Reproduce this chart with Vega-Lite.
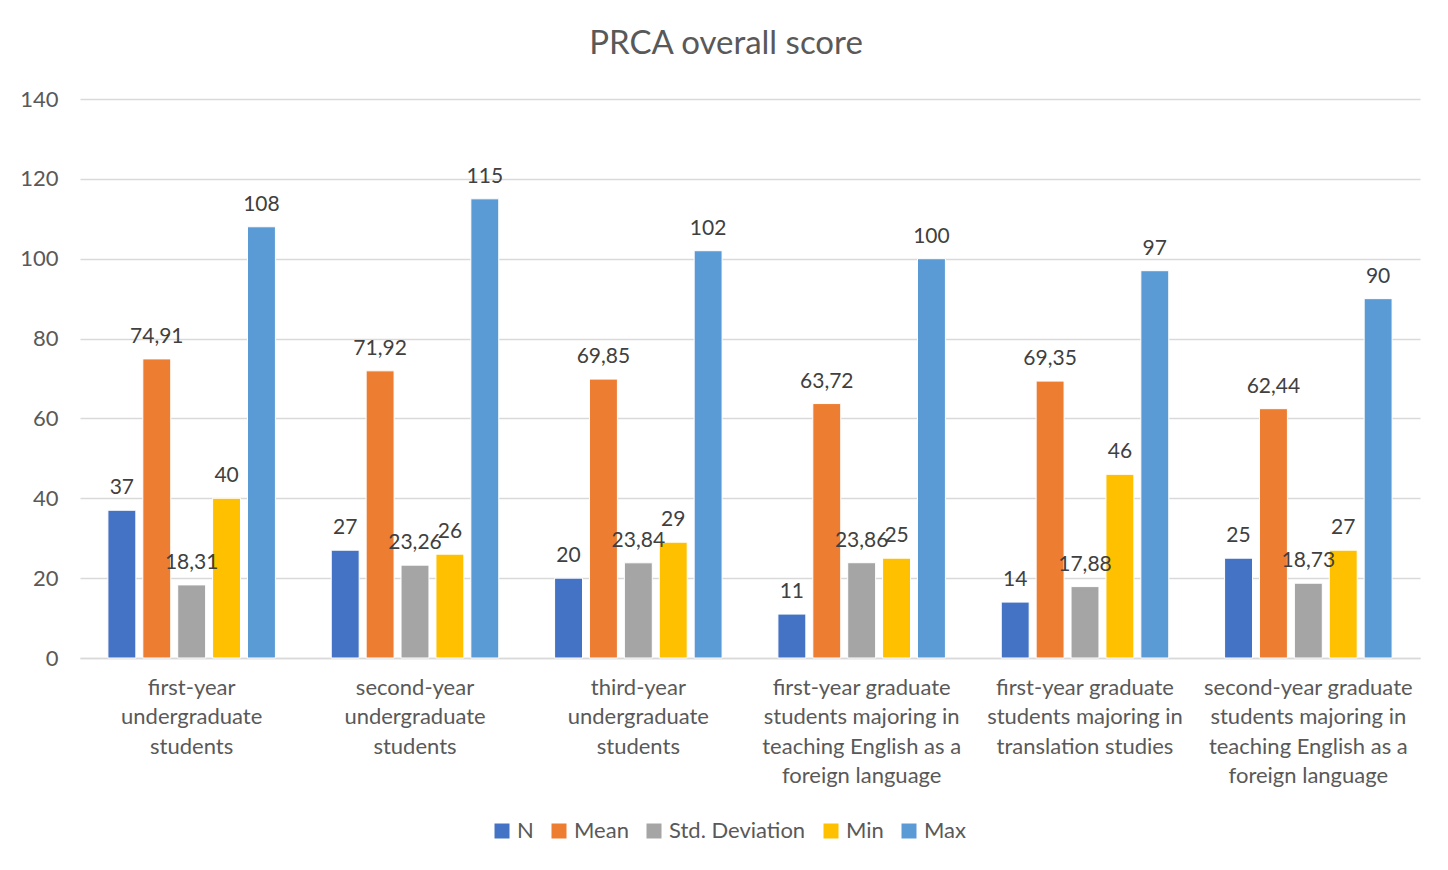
{
  "$schema": "https://vega.github.io/schema/vega-lite/v6.json",
  "width": 1340,
  "height": 559,
  "autosize": {"type": "none"},
  "padding": {"left": 80, "top": 99, "right": 28, "bottom": 212},
  "background": "white",
  "config": {
    "font": "Lato",
    "locale": {"number": {"decimal": ",", "thousands": ".", "grouping": [3], "currency": ["", " €"]}},
    "view": {"stroke": null}
  },
  "title": {
    "text": "PRCA overall score",
    "fontSize": 33,
    "fontWeight": "normal",
    "color": "#595959",
    "font": "Lato",
    "anchor": "middle",
    "dx": -24,
    "offset": 27
  },
  "data": {
    "values": [
      {"group": "first-year\nundergraduate\nstudents", "stat": "N", "value": 37},
      {"group": "first-year\nundergraduate\nstudents", "stat": "Mean", "value": 74.91},
      {"group": "first-year\nundergraduate\nstudents", "stat": "Std. Deviation", "value": 18.31},
      {"group": "first-year\nundergraduate\nstudents", "stat": "Min", "value": 40},
      {"group": "first-year\nundergraduate\nstudents", "stat": "Max", "value": 108},
      {"group": "second-year\nundergraduate\nstudents", "stat": "N", "value": 27},
      {"group": "second-year\nundergraduate\nstudents", "stat": "Mean", "value": 71.92},
      {"group": "second-year\nundergraduate\nstudents", "stat": "Std. Deviation", "value": 23.26},
      {"group": "second-year\nundergraduate\nstudents", "stat": "Min", "value": 26},
      {"group": "second-year\nundergraduate\nstudents", "stat": "Max", "value": 115},
      {"group": "third-year\nundergraduate\nstudents", "stat": "N", "value": 20},
      {"group": "third-year\nundergraduate\nstudents", "stat": "Mean", "value": 69.85},
      {"group": "third-year\nundergraduate\nstudents", "stat": "Std. Deviation", "value": 23.84},
      {"group": "third-year\nundergraduate\nstudents", "stat": "Min", "value": 29},
      {"group": "third-year\nundergraduate\nstudents", "stat": "Max", "value": 102},
      {"group": "first-year graduate\nstudents majoring in\nteaching English as a\nforeign language", "stat": "N", "value": 11},
      {"group": "first-year graduate\nstudents majoring in\nteaching English as a\nforeign language", "stat": "Mean", "value": 63.72},
      {"group": "first-year graduate\nstudents majoring in\nteaching English as a\nforeign language", "stat": "Std. Deviation", "value": 23.86},
      {"group": "first-year graduate\nstudents majoring in\nteaching English as a\nforeign language", "stat": "Min", "value": 25},
      {"group": "first-year graduate\nstudents majoring in\nteaching English as a\nforeign language", "stat": "Max", "value": 100},
      {"group": "first-year graduate\nstudents majoring in\ntranslation studies", "stat": "N", "value": 14},
      {"group": "first-year graduate\nstudents majoring in\ntranslation studies", "stat": "Mean", "value": 69.35},
      {"group": "first-year graduate\nstudents majoring in\ntranslation studies", "stat": "Std. Deviation", "value": 17.88},
      {"group": "first-year graduate\nstudents majoring in\ntranslation studies", "stat": "Min", "value": 46},
      {"group": "first-year graduate\nstudents majoring in\ntranslation studies", "stat": "Max", "value": 97},
      {"group": "second-year graduate\nstudents majoring in\nteaching English as a\nforeign language", "stat": "N", "value": 25},
      {"group": "second-year graduate\nstudents majoring in\nteaching English as a\nforeign language", "stat": "Mean", "value": 62.44},
      {"group": "second-year graduate\nstudents majoring in\nteaching English as a\nforeign language", "stat": "Std. Deviation", "value": 18.73},
      {"group": "second-year graduate\nstudents majoring in\nteaching English as a\nforeign language", "stat": "Min", "value": 27},
      {"group": "second-year graduate\nstudents majoring in\nteaching English as a\nforeign language", "stat": "Max", "value": 90}
    ]
  },
  "encoding": {
    "x": {
      "field": "group",
      "type": "nominal",
      "sort": null,
      "scale": {"paddingInner": 0.25, "paddingOuter": 0.125},
      "axis": {
        "title": null,
        "labelAngle": 0,
        "labelExpr": "split(datum.label, '\\n')",
        "labelFontSize": 22,
        "labelColor": "#595959",
        "labelLineHeight": 29.5,
        "labelPadding": 19,
        "labelBaseline": "top",
        "labelLimit": 300,
        "ticks": false,
        "domainColor": "#D9D9D9",
        "domainWidth": 1.5
      }
    },
    "xOffset": {
      "field": "stat",
      "type": "nominal",
      "sort": ["N", "Mean", "Std. Deviation", "Min", "Max"],
      "scale": {"paddingInner": 0.2, "paddingOuter": 0}
    },
    "y": {
      "field": "value",
      "type": "quantitative",
      "scale": {"domain": [0, 140]},
      "axis": {
        "title": null,
        "values": [0, 20, 40, 60, 80, 100, 120, 140],
        "labelFontSize": 22,
        "labelColor": "#595959",
        "labelPadding": 22,
        "ticks": false,
        "domain": false,
        "gridColor": "#D9D9D9",
        "gridWidth": 1.5,
        "format": "d"
      }
    }
  },
  "layer": [
    {
      "mark": {"type": "bar", "stroke": "white", "strokeWidth": 1},
      "encoding": {
        "color": {
          "field": "stat",
          "type": "nominal",
          "scale": {
            "domain": ["N", "Mean", "Std. Deviation", "Min", "Max"],
            "range": ["#4472C4", "#ED7D31", "#A5A5A5", "#FFC000", "#5B9BD5"]
          },
          "legend": {
            "title": null,
            "orient": "none",
            "direction": "horizontal",
            "legendX": 411,
            "legendY": 721,
            "symbolType": "square",
            "symbolSize": 225,
            "symbolStrokeWidth": 0,
            "labelFontSize": 22,
            "labelColor": "#595959",
            "labelOffset": 4,
            "columnPadding": 14
          }
        }
      }
    },
    {
      "mark": {"type": "text", "baseline": "bottom", "dy": -12, "fontSize": 21, "color": "#404040"},
      "encoding": {
        "text": {"field": "value", "type": "quantitative", "format": ".2~f"}
      }
    }
  ]
}
